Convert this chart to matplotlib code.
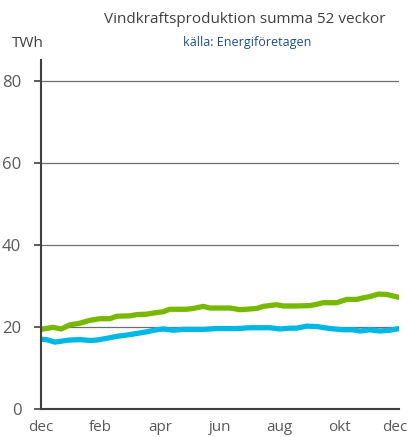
import numpy as np
import matplotlib.pyplot as plt
import matplotlib.transforms as mtransforms

# ---------------- data ----------------
month_ticks = [0, 2, 4, 6, 8, 10, 12]
month_labels = ['dec', 'feb', 'apr', 'jun', 'aug', 'okt', 'dec']

green_x = [0, 0.41, 0.69, 0.97, 1.31, 1.64, 1.98, 2.31, 2.54, 2.98, 3.21, 3.54, 3.88,
           4.10, 4.32, 4.88, 5.11, 5.44, 5.67, 6.34, 6.67, 6.89, 7.23, 7.45, 7.90, 8.12,
           8.57, 9.02, 9.24, 9.46, 9.91, 10.25, 10.58, 10.81, 11.03, 11.31, 11.59, 12.0]
green_y = [19.4, 19.9, 19.5, 20.5, 20.9, 21.6, 22.0, 22.0, 22.6, 22.7, 23.0, 23.1, 23.5,
           23.7, 24.3, 24.3, 24.5, 25.0, 24.6, 24.6, 24.2, 24.3, 24.5, 25.0, 25.4, 25.1,
           25.1, 25.2, 25.5, 25.9, 25.9, 26.7, 26.7, 27.1, 27.4, 28.0, 27.9, 27.2]

blue_x = [0, 0.19, 0.47, 0.75, 0.97, 1.31, 1.64, 1.87, 2.20, 2.54, 2.87, 3.21, 3.54,
          3.88, 4.10, 4.44, 4.77, 5.44, 5.89, 6.56, 7.01, 7.68, 8.01, 8.35, 8.57, 8.91,
          9.24, 9.69, 10.14, 10.47, 10.69, 11.03, 11.36, 11.70, 12.0]
blue_y = [17.0, 16.9, 16.3, 16.6, 16.8, 16.9, 16.7, 16.8, 17.2, 17.7, 18.0, 18.4, 18.8,
          19.3, 19.5, 19.2, 19.4, 19.4, 19.6, 19.6, 19.8, 19.8, 19.5, 19.7, 19.7, 20.2,
          20.1, 19.6, 19.3, 19.3, 19.0, 19.3, 19.0, 19.2, 19.6]

# ---------------- plot ----------------
plt.rcParams['font.family'] = ['Open Sans', 'DejaVu Sans']

fig = plt.figure(figsize=(4.08, 4.37), dpi=100)
ax = fig.add_axes([0.1, 0.064, 0.878, 0.7986])

ax.plot(green_x, green_y, color='#77b900', lw=3.8, solid_capstyle='round')
ax.plot(blue_x, blue_y, color='#00b8e6', lw=3.8, solid_capstyle='round')

ax.set_xlim(0, 12)
ax.set_ylim(0, 85)
ax.set_yticks([0, 20, 40, 60, 80])
ax.set_xticks(month_ticks)
ax.set_xticklabels(month_labels)

for v in [20, 40, 60, 80]:
    ax.axhline(v, color='#6f6f6f', lw=0.9, zorder=0)

for s in ['top', 'right']:
    ax.spines[s].set_visible(False)
ax.spines['left'].set_color('#404040')
ax.spines['bottom'].set_color('#404040')
ax.spines['left'].set_linewidth(1.5)
ax.spines['bottom'].set_linewidth(1.5)

ax.tick_params(axis='y', length=5, width=1.2, color='#404040', labelcolor='#595959',
               labelsize=12, pad=9)
ax.tick_params(axis='x', length=0, labelcolor='#595959', labelsize=11, pad=8)

# last "dec" sits a bit left so it stays inside the figure
last = ax.get_xticklabels()[-1]
last.set_transform(last.get_transform() +
                   mtransforms.ScaledTranslation(-4 / 100, 0, fig.dpi_scale_trans))

fig.text(0.6, 0.955, 'Vindkraftsproduktion summa 52 veckor', ha='center', va='center',
         fontsize=11, color='#404040')
fig.text(0.605, 0.902, 'källa: Energiföretagen', ha='center', va='center',
         fontsize=9, color='#1f4e8c')
fig.text(0.028, 0.9, 'TWh', ha='left', va='center', fontsize=11, color='#404040')

fig.savefig('out.png', dpi=100)
